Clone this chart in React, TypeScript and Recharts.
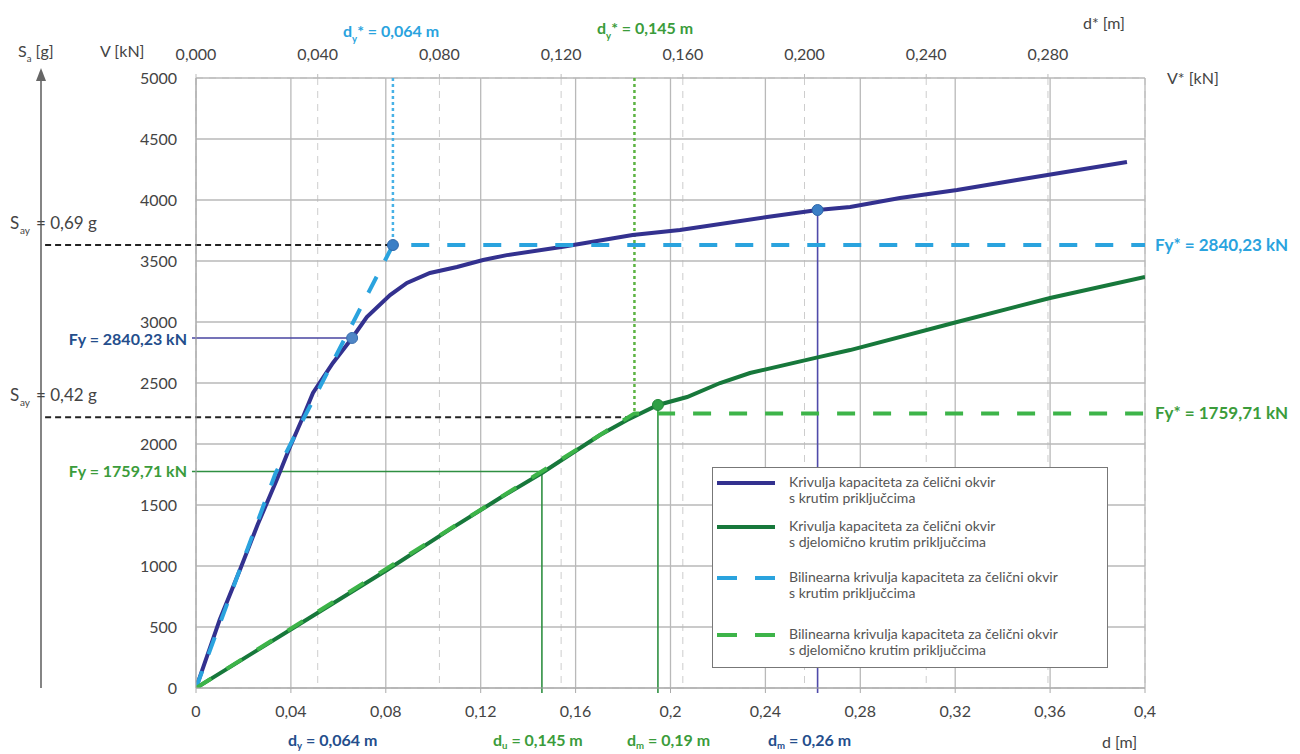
import React from 'react';
import {
  ComposedChart,
  Line,
  XAxis,
  YAxis,
  CartesianGrid,
  ReferenceLine,
  ReferenceDot,
  Legend,
} from 'recharts';

// ---- data ----
const blueD = [0, 0.010, 0.0185, 0.026, 0.034, 0.0396, 0.0451, 0.0493, 0.0577, 0.0658, 0.072, 0.0818, 0.0889, 0.0986, 0.110, 0.121, 0.131, 0.1547, 0.184, 0.204, 0.2407, 0.262, 0.2757, 0.2967, 0.3208, 0.346, 0.3924];
const blueV = [0, 560, 967, 1340, 1705, 1975, 2221, 2418, 2664, 2869, 3041, 3221, 3320, 3402, 3451, 3508, 3548, 3617, 3713, 3754, 3861, 3918, 3943, 4016, 4082, 4164, 4311];

const greenD = [0, 0.0396, 0.0805, 0.107, 0.1281, 0.1458, 0.1606, 0.1703, 0.1817, 0.1947, 0.207, 0.2209, 0.2335, 0.262, 0.2757, 0.3208, 0.36, 0.4];
const greenV = [0, 475, 967, 1300, 1557, 1762, 1951, 2074, 2197, 2320, 2385, 2500, 2582, 2710, 2770, 3000, 3197, 3369];

const blueBiD = [0, 0.0335, 0.083, 0.4];
const blueBiV = [0, 1760, 3631, 3631];

const greenBiD = [0, 0.1848, 0.4];
const greenBiV = [0, 2251, 2251];

const dTicks = [0, 0.04, 0.08, 0.12, 0.16, 0.2, 0.24, 0.28, 0.32, 0.36, 0.4];
const dTickLabels = ['0', '0,04', '0,08', '0,12', '0,16', '0,2', '0,24', '0,28', '0,32', '0,36', '0,4'];
const dStarTicks = [0, 0.04, 0.08, 0.12, 0.16, 0.2, 0.24, 0.28];
const dStarTickLabels = ['0,000', '0,040', '0,080', '0,120', '0,160', '0,200', '0,240', '0,280'];
const vTicks = [0, 500, 1000, 1500, 2000, 2500, 3000, 3500, 4000, 4500, 5000];
const vStarTicks = [500, 1000, 1500, 2000, 2500, 3000, 3500];

// key points
const fyBlue = { d: 0.0658, v: 2869 };
const yieldBlue = { d: 0.083, v: 3631 };
const dmBlue = { d: 0.262, v: 3918 };
const fyGreen = { d: 0.1458, v: 1775 };
const dmGreen = { d: 0.1947, v: 2320 };
const yieldGreen = { d: 0.1848, v: 2251 };
const sayLow = 2219;

const legendLabels = [
  ['Krivulja kapaciteta za čelični okvir', 's krutim priključcima'],
  ['Krivulja kapaciteta za čelični okvir', 's djelomično krutim priključcima'],
  ['Bilinearna krivulja kapaciteta za čelični okvir', 's krutim priključcima'],
  ['Bilinearna krivulja kapaciteta za čelični okvir', 's djelomično krutim priključcima'],
];

const rows = (xs: number[], ys: number[]) => xs.map((d, i) => ({ d, v: ys[i] }));

const C_BLUE = '#33318f';
const C_GREEN = '#17783b';
const C_LBLUE = '#2aa3de';
const C_LGREEN = '#3db449';
const C_NAVY_TXT = '#244e8c';
const C_GREEN_TXT = '#3b9c3b';
const C_TXT = '#444';
const FONT = 'Lato, "Open Sans", sans-serif';

const legendStyles = [
  { stroke: C_BLUE, dash: undefined as string | undefined },
  { stroke: C_GREEN, dash: undefined },
  { stroke: C_LBLUE, dash: '20 18' },
  { stroke: C_LGREEN, dash: '20 18' },
];
const legendRowY = [16, 60, 111, 168];

const LegendBox = () => (
  <svg width={396} height={201} style={{ display: 'block' }}>
    <rect x={0.5} y={0.5} width={395} height={200} fill="#fff" stroke="#777" strokeWidth={1} />
    {legendLabels.map((lines, i) => (
      <g key={i}>
        <line x1={5} x2={63} y1={legendRowY[i]} y2={legendRowY[i]} stroke={legendStyles[i].stroke} strokeWidth={4} strokeDasharray={legendStyles[i].dash} />
        <text x={77} y={legendRowY[i] + 4} fontSize={14} fill="#555" fontFamily={FONT}>{lines[0]}</text>
        <text x={77} y={legendRowY[i] + 20} fontSize={14} fill="#555" fontFamily={FONT}>{lines[1]}</text>
      </g>
    ))}
  </svg>
);

const SubLabel = ({ x, y, main, sub, rest, fill, size = 16, weight = 700, shift = 5 }: any) => (
  <text x={x} y={y} fill={fill} fontSize={size} fontWeight={weight} fontFamily={FONT}>
    {main}
    <tspan fontSize={size * 0.6} dy={shift}>{sub}</tspan>
    <tspan dy={-shift}>{rest}</tspan>
  </text>
);

export default function App() {
  const tickStyle = { fill: C_TXT, fontSize: 16, fontFamily: FONT };
  return (
    <div style={{ position: 'absolute', left: 0, top: 0, width: 1300, height: 754, background: '#fff' }}>
      <ComposedChart width={1300} height={754} margin={{ top: 48, right: 145, bottom: 36, left: 136 }}>
        <CartesianGrid xAxisId="top" yAxisId="right" stroke="#cdcdcd" strokeDasharray="7 6" strokeWidth={1} />
        <CartesianGrid stroke="#b9b9b9" strokeWidth={1.3} />
        <XAxis
          dataKey="d"
          type="number"
          domain={[0, 0.4]}
          ticks={dTicks}
          tickFormatter={(v: number, i: number) => dTickLabels[i]}
          tick={tickStyle}
          tickSize={5}
          tickMargin={13}
          height={30}
          stroke="#aaa"
          allowDataOverflow
        />
        <XAxis
          xAxisId="top"
          orientation="top"
          dataKey="d"
          type="number"
          domain={[0, 0.3119]}
          ticks={dStarTicks}
          tickFormatter={(v: number, i: number) => dStarTickLabels[i]}
          tick={tickStyle}
          tickSize={4}
          tickMargin={14}
          height={30}
          axisLine={false}
          stroke="#bbb"
          allowDataOverflow
        />
        <YAxis
          type="number"
          domain={[0, 5000]}
          ticks={vTicks}
          tick={tickStyle}
          tickLine={false}
          tickSize={6}
          tickMargin={13}
          width={60}
          stroke="#aaa"
          allowDataOverflow
        />
        <YAxis
          yAxisId="right"
          orientation="right"
          type="number"
          domain={[0, 3900]}
          ticks={vStarTicks}
          tick={false}
          tickSize={8}
          axisLine={false}
          width={10}
          stroke="#bbb"
          allowDataOverflow
        />

        {/* guide lines */}
        <ReferenceLine segment={[{ x: -0.0636, y: yieldBlue.v }, { x: yieldBlue.d, y: yieldBlue.v }]} stroke="#222" strokeWidth={2} strokeDasharray="6 4" ifOverflow="visible" />
        <ReferenceLine segment={[{ x: -0.0636, y: sayLow }, { x: yieldGreen.d, y: sayLow }]} stroke="#222" strokeWidth={2} strokeDasharray="6 4" ifOverflow="visible" />
        <ReferenceLine segment={[{ x: yieldBlue.d, y: 5000 }, { x: yieldBlue.d, y: yieldBlue.v }]} stroke="#47b1e6" strokeWidth={2.5} strokeDasharray="3 3" ifOverflow="visible" />
        <ReferenceLine segment={[{ x: yieldGreen.d, y: 5000 }, { x: yieldGreen.d, y: yieldGreen.v }]} stroke="#5cb342" strokeWidth={2.5} strokeDasharray="3 3" ifOverflow="visible" />
        <ReferenceLine segment={[{ x: -0.0017, y: fyBlue.v }, { x: fyBlue.d, y: fyBlue.v }]} stroke="#4744a0" strokeWidth={1.6} ifOverflow="visible" />
        <ReferenceLine segment={[{ x: -0.0017, y: fyGreen.v }, { x: fyGreen.d, y: fyGreen.v }]} stroke="#2f8f42" strokeWidth={1.6} ifOverflow="visible" />
        <ReferenceLine segment={[{ x: fyGreen.d, y: fyGreen.v }, { x: fyGreen.d, y: -41 }]} stroke="#2f8f42" strokeWidth={1.6} ifOverflow="visible" />
        <ReferenceLine segment={[{ x: dmGreen.d, y: dmGreen.v }, { x: dmGreen.d, y: -41 }]} stroke="#2f8f42" strokeWidth={1.6} ifOverflow="visible" />
        <ReferenceLine segment={[{ x: dmBlue.d, y: dmBlue.v }, { x: dmBlue.d, y: -41 }]} stroke="#4f4aaa" strokeWidth={1.6} ifOverflow="visible" />

        <Line data={rows(blueD, blueV)} dataKey="v" type="linear" stroke={C_BLUE} strokeWidth={4} dot={false} isAnimationActive={false} />
        <Line data={rows(greenD, greenV)} dataKey="v" type="linear" stroke={C_GREEN} strokeWidth={4} dot={false} isAnimationActive={false} />
        <Line data={rows(blueBiD, blueBiV)} dataKey="v" type="linear" stroke={C_LBLUE} strokeWidth={4} strokeDasharray="18 18" dot={false} isAnimationActive={false} />
        <Line data={rows(greenBiD, greenBiV)} dataKey="v" type="linear" stroke={C_LGREEN} strokeWidth={4} strokeDasharray="18 18" dot={false} isAnimationActive={false} />

        <ReferenceDot x={fyBlue.d} y={fyBlue.v} r={5.5} fill="#4f86c6" stroke="#3a6fb0" strokeWidth={1} ifOverflow="visible" />
        <ReferenceDot x={yieldBlue.d} y={yieldBlue.v} r={5.5} fill="#3b7fc6" stroke="#2e66a8" strokeWidth={1} ifOverflow="visible" />
        <ReferenceDot x={dmBlue.d} y={dmBlue.v} r={5.5} fill="#3b7fc6" stroke="#2e66a8" strokeWidth={1} ifOverflow="visible" />
        <ReferenceDot x={dmGreen.d} y={dmGreen.v} r={5.5} fill="#2fa046" stroke="#23893a" strokeWidth={1} ifOverflow="visible" />

        <Legend
          layout="horizontal"
          verticalAlign="middle"
          align="center"
          wrapperStyle={{ left: 712, top: 467, width: 396, height: 201 }}
          content={() => <LegendBox />}
        />
      </ComposedChart>

      <svg width={1300} height={754} style={{ position: 'absolute', left: 0, top: 0, pointerEvents: 'none' }}>
        {/* Sa arrow axis */}
        <line x1={41} y1={78} x2={41} y2={688} stroke="#666" strokeWidth={1.6} />
        <polygon points="41,68 36,81 46,81" fill="#666" />
        <SubLabel x={18} y={57} main="S" sub="a" rest=" [g]" fill={C_TXT} size={16} weight={400} />
        <text x={100} y={57} fill={C_TXT} fontSize={16} fontFamily={FONT}>V [kN]</text>
        <text x={1083} y={29} fill={C_TXT} fontSize={16} fontFamily={FONT}>d* [m]</text>
        <text x={1167} y={84} fill={C_TXT} fontSize={16} fontFamily={FONT}>V* [kN]</text>
        <text x={1102} y={748} fill={C_TXT} fontSize={16} fontFamily={FONT}>d [m]</text>

        {/* Say labels */}
        <text x={10} y={229} fill={C_TXT} fontSize={17} fontFamily={FONT}>S</text>
        <text x={20} y={234} fill={C_TXT} fontSize={10} fontFamily={FONT}>ay</text>
        <text x={36} y={229} fill={C_TXT} fontSize={17} fontFamily={FONT}>= 0,69 g</text>
        <text x={10} y={401} fill={C_TXT} fontSize={17} fontFamily={FONT}>S</text>
        <text x={20} y={406} fill={C_TXT} fontSize={10} fontFamily={FONT}>ay</text>
        <text x={36} y={401} fill={C_TXT} fontSize={17} fontFamily={FONT}>= 0,42 g</text>

        {/* top annotations */}
        <SubLabel x={343} y={37} main="d" sub="y" rest="* = 0,064 m" fill={C_LBLUE} />
        <SubLabel x={597} y={34} main="d" sub="y" rest="* = 0,145 m" fill={C_GREEN_TXT} />

        {/* Fy labels */}
        <text x={187} y={345} textAnchor="end" fill={C_NAVY_TXT} fontSize={16} fontWeight={700} fontFamily={FONT}>Fy = 2840,23 kN</text>
        <text x={187} y={477} textAnchor="end" fill={C_GREEN_TXT} fontSize={16} fontWeight={700} fontFamily={FONT}>Fy = 1759,71 kN</text>
        <text x={1155} y={251} fill={C_LBLUE} fontSize={17} fontWeight={700} fontFamily={FONT}>Fy* = 2840,23 kN</text>
        <text x={1155} y={419} fill={C_GREEN_TXT} fontSize={17} fontWeight={700} fontFamily={FONT}>Fy* = 1759,71 kN</text>

        {/* bottom annotations */}
        <SubLabel x={288} y={746} main="d" sub="y" rest=" = 0,064 m" fill={C_NAVY_TXT} shift={3} />
        <SubLabel x={493} y={746} main="d" sub="u" rest=" = 0,145 m" fill={C_GREEN_TXT} shift={3} />
        <SubLabel x={627} y={746} main="d" sub="m" rest=" = 0,19 m" fill={C_GREEN_TXT} shift={3} />
        <SubLabel x={768} y={746} main="d" sub="m" rest=" = 0,26 m" fill={C_NAVY_TXT} shift={3} />
      </svg>
    </div>
  );
}
